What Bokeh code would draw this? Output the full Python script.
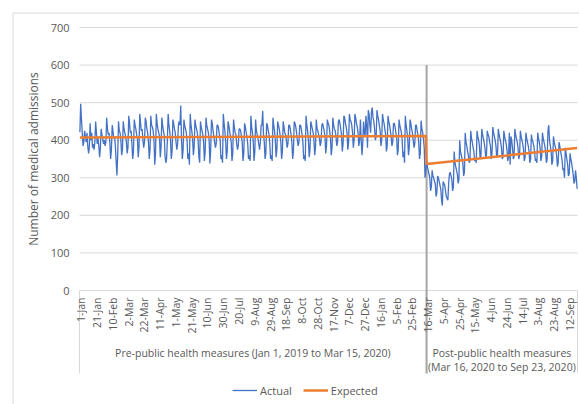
import math
from bokeh.plotting import figure
from bokeh.models import FixedTicker, Legend, LegendItem
from bokeh.core.properties import value
from bokeh.embed import file_html
from bokeh.resources import INLINE

# ---- data: daily medical admissions, Jan 1 2019 .. Mar 15 2020 (pre) ----
actual_pre = [
    421, 497, 455, 420, 385, 395, 425,
    410, 395, 420, 385, 365, 380, 445,
    400, 420, 380, 390, 375, 395, 450,
    420, 390, 405, 385, 355, 380, 430,
    415, 405, 390, 400, 385, 395, 460,
    430, 415, 420, 395, 350, 375, 440,
    425, 405, 410, 385, 345, 306, 360,
    450, 425, 420, 400, 360, 375, 450,
    430, 420, 410, 395, 365, 380, 465,
    445, 420, 425, 390, 350, 370, 455,
    440, 430, 415, 405, 355, 380, 470,
    445, 425, 430, 400, 380, 395, 460,
    450, 430, 420, 395, 350, 375, 465,
    440, 435, 425, 400, 335, 365, 470,
    445, 430, 420, 410, 355, 380, 460,
    440, 425, 415, 360, 340, 350, 400,
    470, 440, 425, 400, 350, 370, 455,
    445, 430, 420, 395, 375, 390, 440,
    450, 440, 492, 400, 350, 375, 455,
    440, 430, 420, 400, 350, 365, 335,
    470, 440, 425, 405, 360, 380, 455,
    440, 430, 420, 400, 355, 340, 450,
    435, 425, 415, 395, 345, 370, 460,
    440, 430, 420, 400, 338, 375, 455,
    445, 425, 410, 395, 380, 390, 440,
    440, 430, 415, 400, 350, 360, 340,
    470, 445, 425, 395, 350, 370, 450,
    440, 425, 410, 395, 345, 365, 455,
    435, 420, 415, 390, 375, 385, 430,
    430, 425, 410, 395, 345, 365, 445,
    435, 420, 410, 390, 350, 360, 345,
    465, 435, 420, 395, 345, 370, 455,
    425, 415, 405, 390, 375, 395, 440,
    440, 478, 415, 395, 350, 365, 445,
    440, 425, 415, 390, 350, 360, 345,
    460, 440, 425, 400, 355, 375, 450,
    440, 430, 415, 395, 350, 370, 450,
    435, 420, 415, 400, 380, 390, 440,
    440, 430, 415, 395, 350, 370, 450,
    445, 435, 420, 400, 385, 395, 440,
    440, 430, 415, 395, 350, 360, 345,
    465, 440, 425, 400, 355, 375, 450,
    440, 430, 420, 400, 360, 380, 455,
    430, 425, 415, 405, 385, 395, 440,
    445, 435, 425, 410, 365, 385, 455,
    445, 440, 425, 405, 360, 380, 460,
    440, 430, 425, 410, 385, 395, 450,
    455, 445, 430, 415, 370, 390, 465,
    460, 445, 435, 420, 375, 395, 470,
    455, 450, 440, 420, 380, 400, 470,
    460, 445, 435, 420, 385, 400, 455,
    400, 360, 395, 450, 420, 410, 465,
    440, 380, 480, 470, 440, 420, 475,
    487, 460, 450, 430, 400, 410, 480,
    465, 455, 440, 425, 385, 400, 470,
    455, 445, 430, 415, 370, 385, 465,
    450, 440, 425, 410, 385, 395, 445,
    445, 435, 420, 405, 360, 375, 455,
    440, 430, 420, 400, 355, 370, 340,
    465, 440, 425, 405, 360, 380, 455,
    445, 430, 420, 400, 380, 390, 440,
    440, 425, 415, 395, 350, 365, 452,
    430, 420, 405, 380, 300, 320,
]

# ---- data: Mar 16 2020 .. Sep 23 2020 (post) ----
actual_post = [
    345, 330, 320, 310, 300, 265, 275,
    320, 305, 300, 290, 285, 250, 260,
    305, 300, 290, 280, 270, 240, 226,
    290, 285, 280, 265, 250, 245, 240,
    285, 310, 315, 305, 295, 265, 275,
    370, 340, 330, 320, 310, 285, 295,
    400, 370, 360, 350, 340, 305, 315,
    420, 395, 385, 370, 360, 340, 345,
    425, 405, 395, 380, 370, 345, 350,
    340, 425, 410, 400, 385, 350, 360,
    430, 415, 405, 395, 380, 355, 360,
    425, 415, 410, 395, 385, 350, 365,
    435, 420, 410, 400, 385, 355, 360,
    430, 415, 405, 395, 380, 350, 355,
    425, 410, 400, 390, 375, 345, 355,
    420, 335, 410, 400, 380, 350, 355,
    430, 415, 405, 395, 380, 350, 360,
    425, 410, 400, 390, 375, 345, 355,
    420, 405, 395, 385, 370, 340, 350,
    415, 400, 395, 385, 370, 345, 350,
    340, 420, 405, 395, 380, 345, 355,
    420, 405, 395, 385, 370, 340, 350,
    425, 440, 400, 385, 370, 335, 345,
    410, 395, 385, 375, 360, 330, 340,
    395, 385, 370, 360, 345, 320, 325,
    300, 380, 365, 350, 335, 305, 310,
    365, 350, 340, 325, 310, 285, 290,
    320, 300, 271,
]

expected_day = [0, 439, 440, 631]
expected_val = [407, 411, 337, 379]

date_tick_labels = [
    "1-Jan", "21-Jan", "10-Feb", "2-Mar", "22-Mar", "11-Apr", "1-May", "21-May",
    "10-Jun", "30-Jun", "20-Jul", "9-Aug", "29-Aug", "18-Sep", "8-Oct", "28-Oct",
    "17-Nov", "7-Dec", "27-Dec", "16-Jan", "5-Feb", "25-Feb", "16-Mar", "5-Apr",
    "25-Apr", "15-May", "4-Jun", "24-Jun", "14-Jul", "3-Aug", "23-Aug", "12-Sep",
]
date_tick_step = 20

pre_label = "Pre-public health measures (Jan 1, 2019 to Mar 15, 2020)"
post_label_lines = ["Post-public health measures", "(Mar 16, 2020 to Sep 23, 2020)"]
y_ticks = [0, 100, 200, 300, 400, 500, 600, 700]
intervention_top = 600

# ---- derived ----
actual = actual_pre + actual_post
n_pre = len(actual_pre)
n = len(actual)
day_index = list(range(n))
tick_pos = [i * date_tick_step for i in range(len(date_tick_labels))]

W, H = 579, 404
PLOT_L, PLOT_R = 79, 577          # pixel edges of the plotting area
Y700_PX, Y0_PX = 27, 290          # pixel rows of 700 and 0
sx = (PLOT_R - PLOT_L) / n
sy = (Y0_PX - Y700_PX) / 700.0
x0 = -0.5 - PLOT_L / sx
x1 = n - 0.5 + (W - PLOT_R) / sx
y1 = 700 + Y700_PX / sy
y0 = -(H - Y0_PX) / sy

def px_y(py):
    return (Y0_PX - py) / sy

def px_x(px):
    return x0 + px / sx

GRAY_TXT = "#595959"
GRID = "#d9d9d9"
FONT = "Open Sans"

p = figure(width=W, height=H, x_range=(x0, x1), y_range=(y0, y1),
           output_backend="svg", toolbar_location=None, x_axis_location=None,
           min_border=0)
p.outline_line_color = None
p.xgrid.visible = False
p.ygrid.visible = False

ax = p.yaxis[0]
ax.fixed_location = -0.5
ax.bounds = (0, 700)
ax.ticker = FixedTicker(ticks=y_ticks)
ax.axis_line_color = None
ax.major_tick_line_color = None
ax.minor_tick_line_color = None
ax.major_tick_out = 0
ax.major_tick_in = 0
ax.major_label_standoff = 10
ax.major_label_text_font = FONT
ax.major_label_text_font_size = "11px"
ax.major_label_text_color = GRAY_TXT
ax.axis_label = "Number of medical admissions"
ax.axis_label_standoff = 6
ax.axis_label_text_font = FONT
ax.axis_label_text_font_size = "12px"
ax.axis_label_text_font_style = "normal"
ax.axis_label_text_color = GRAY_TXT

# outer chart-area border
bx, by = px_x(12.5), px_y(12.5)
p.segment(x0=[bx, bx], y0=[by, by], x1=[bx, x1 + 50], y1=[y0 - 50, by],
          line_color=GRID, line_width=1)

# horizontal gridlines
p.segment(x0=[-0.5] * len(y_ticks), y0=y_ticks, x1=[n - 0.5] * len(y_ticks), y1=y_ticks,
          line_color=GRID, line_width=1)

# category dividers below the axis
div_bottom = px_y(373)
div_x = [-0.5, n_pre - 0.5, n - 0.5]
p.segment(x0=div_x, y0=[0] * 3, x1=div_x, y1=[div_bottom] * 3, line_color=GRID, line_width=1)

# intervention line
p.segment(x0=[n_pre], y0=[div_bottom], x1=[n_pre], y1=[intervention_top],
          line_color="#a6a6a6", line_width=2)

r_act = p.line(day_index, actual, line_color="#4472C4", line_width=1.3)
r_exp = p.line(expected_day, expected_val, line_color="#ED7D31", line_width=2.5)

# date labels
p.text(x=tick_pos, y=[px_y(297)] * len(tick_pos), text=date_tick_labels, angle=math.pi / 2,
       text_align="right", text_baseline="middle", text_font=value(FONT),
       text_font_size="10.5px", text_color=GRAY_TXT, x_offset=1.5)

# period labels
pre_c = (n_pre - 1) / 2
post_c = n_pre + (n - n_pre - 1) / 2
p.text(x=[pre_c, post_c, post_c], y=[px_y(352), px_y(352), px_y(366)],
       text=[pre_label] + post_label_lines, text_align="center", text_baseline="middle",
       text_font=value(FONT), text_font_size="10.5px", text_color=GRAY_TXT)

legend = Legend(items=[LegendItem(label="Actual", renderers=[r_act]),
                       LegendItem(label="Expected", renderers=[r_exp])],
                orientation="horizontal", location=(232, 4), padding=0, margin=0,
                spacing=11, glyph_width=25, label_standoff=3,
                border_line_color=None, background_fill_alpha=0,
                label_text_font=FONT, label_text_font_size="11px", label_text_color=GRAY_TXT)
p.add_layout(legend)

open("out.html", "w").write(file_html(p, INLINE))
